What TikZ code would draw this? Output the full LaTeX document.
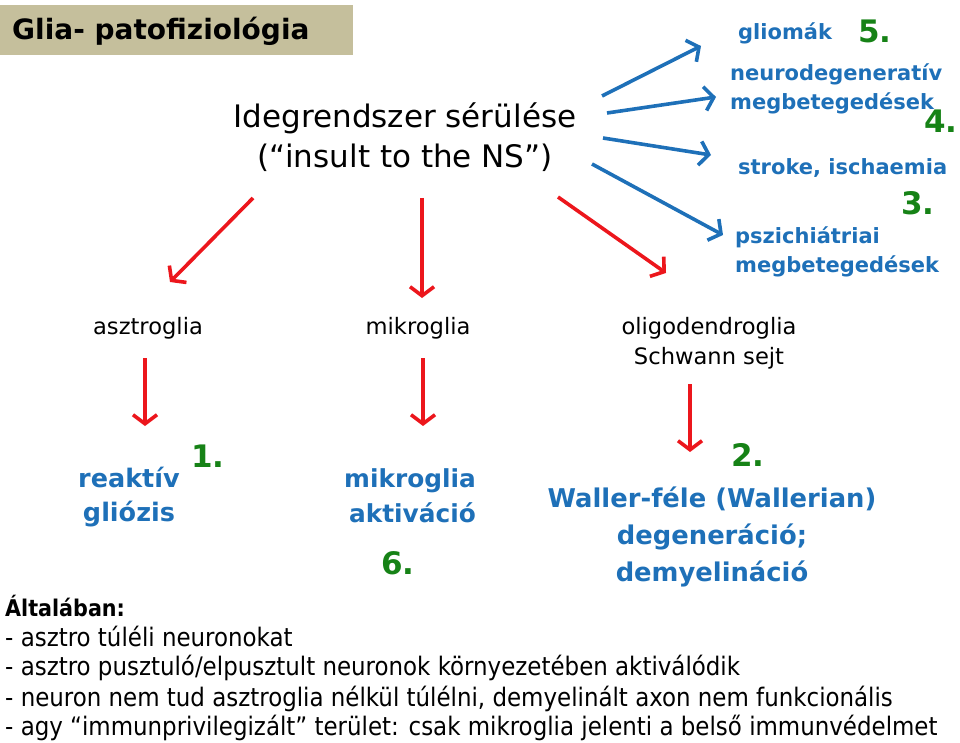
\documentclass[tikz,border=0pt]{standalone}
\usepackage{fontspec}
\setmainfont{DejaVu Sans}
\newfontfamily\condfont{DejaVu Sans Condensed}
\usetikzlibrary{positioning,arrows.meta}
\definecolor{gliablue}{RGB}{30,112,184}
\definecolor{gliagreen}{RGB}{22,130,22}
\definecolor{gliared}{RGB}{236,22,28}
\definecolor{titlebeige}{RGB}{197,191,156}
\tikzset{
  redarrow/.style={draw=gliared, line width=3.6pt,
    -{Straight Barb[length=9pt,width=24pt,line width=3.6pt]}},
  bluearrow/.style={draw=gliablue, line width=3.6pt,
    -{Straight Barb[length=9pt,width=24pt,line width=3.6pt]}},
  celltext/.style={font=\fontsize{22.6}{30}\selectfont, align=center, inner sep=0pt},
  bluetext/.style={text=gliablue, font=\fontsize{21}{29}\selectfont\bfseries, inner sep=0pt},
  num/.style={text=gliagreen, font=\fontsize{31}{31}\selectfont\bfseries, inner sep=0pt},
  notetext/.style={font=\condfont\fontsize{25.5}{32}\selectfont, anchor=west, inner sep=0pt}
}
\begin{document}
\begin{tikzpicture}[x=1pt, y=-1pt]
    \useasboundingbox (0,0) rectangle (960,743);

    % title box
    \node[fill=titlebeige, anchor=north west, minimum width=353pt, minimum height=50pt,
          inner sep=0pt] (titlebox) at (0,5) {};
    \node[anchor=west, inner sep=0pt, font=\fontsize{28}{28}\selectfont\bfseries] (title)
          at (12,31) {Glia- patofiziológia};

    % the insult
    \node[font=\fontsize{31}{40}\selectfont, align=center, inner sep=0pt] (insult)
          at (405,137) {Idegrendszer sérülése\\(“insult to the NS”)};

    % glia types
    \node[celltext] (astro) at (148,328) {asztroglia};
    \node[celltext] (micro) at (418,328) {mikroglia};
    \node[celltext] (oligo) at (709,343) {oligodendroglia\\Schwann sejt};

    % reactions
    \node[bluetext, align=center, font=\fontsize{25.5}{34}\selectfont\bfseries] (gliosis)
          at (129,497) {reaktív\\gliózis};
    \node[bluetext, align=right, font=\fontsize{24.8}{35}\selectfont\bfseries] (activ)
          at (410,496) {mikroglia\\aktiváció};
    \node[bluetext, align=center, font=\fontsize{25.8}{37}\selectfont\bfseries] (waller)
          at (712,537) {Waller-féle (Wallerian)\\degeneráció;\\demyelináció};

    % diseases
    \node[bluetext, anchor=west] (glioma) at (738,33) {gliomák};
    \node[bluetext, anchor=west, align=left] (neurodeg) at (730,89) {neurodegeneratív\\megbetegedések};
    \node[bluetext, anchor=west] (stroke) at (738,168) {stroke, ischaemia};
    \node[bluetext, anchor=west, align=left] (psych) at (735,252) {pszichiátriai\\megbetegedések};

    % numbers
    \node[num] (n1) at (208,456) {1.};
    \node[num] (n2) at (748,455) {2.};
    \node[num] (n3) at (918,203) {3.};
    \node[num] (n4) at (941,121) {4.};
    \node[num] (n5) at (875,31) {5.};
    \node[num] (n6) at (398,563) {6.};

    % arrow ends
    \coordinate (a1s) at (253,198);  \coordinate (a1e) at (170,282);
    \coordinate (a2s) at (422,198);  \coordinate (a2e) at (422,298);
    \coordinate (a3s) at (558,197);  \coordinate (a3e) at (666,273);
    \coordinate (b1s) at (602,96);   \coordinate (b1e) at (701,46);
    \coordinate (b2s) at (607,113);  \coordinate (b2e) at (716,97);
    \coordinate (b3s) at (603,138);  \coordinate (b3e) at (711,155);
    \coordinate (b4s) at (592,164);  \coordinate (b4e) at (723,235);
    \coordinate (c1s) at (145,358);  \coordinate (c1e) at (145,426);
    \coordinate (c2s) at (423,358);  \coordinate (c2e) at (423,426);
    \coordinate (c3s) at (690,384);  \coordinate (c3e) at (690,452);

    \draw[redarrow] (a1s) -- (a1e);
    \draw[redarrow] (a2s) -- (a2e);
    \draw[redarrow] (a3s) -- (a3e);
    \draw[bluearrow] (b1s) -- (b1e);
    \draw[bluearrow] (b2s) -- (b2e);
    \draw[bluearrow] (b3s) -- (b3e);
    \draw[bluearrow] (b4s) -- (b4e);
    \draw[redarrow] (c1s) -- (c1e);
    \draw[redarrow] (c2s) -- (c2e);
    \draw[redarrow] (c3s) -- (c3e);

    % general notes
    \node[notetext, font=\condfont\fontsize{23}{23}\selectfont\bfseries] (general) at (5,606) {Általában:};
    \node[notetext] (line1) at (5,636) {- asztro túléli neuronokat};
    \node[notetext] (line2) at (5,668) {- asztro pusztuló/elpusztult neuronok környezetében aktiválódik};
    \node[notetext] (line3) at (5,699) {- neuron nem tud asztroglia nélkül túlélni, demyelinált axon nem funkcionális};
    \node[notetext] (line4) at (5,728) {- agy “immunprivilegizált” terület: csak mikroglia jelenti a belső immunvédelmet};
\end{tikzpicture}
\end{document}
